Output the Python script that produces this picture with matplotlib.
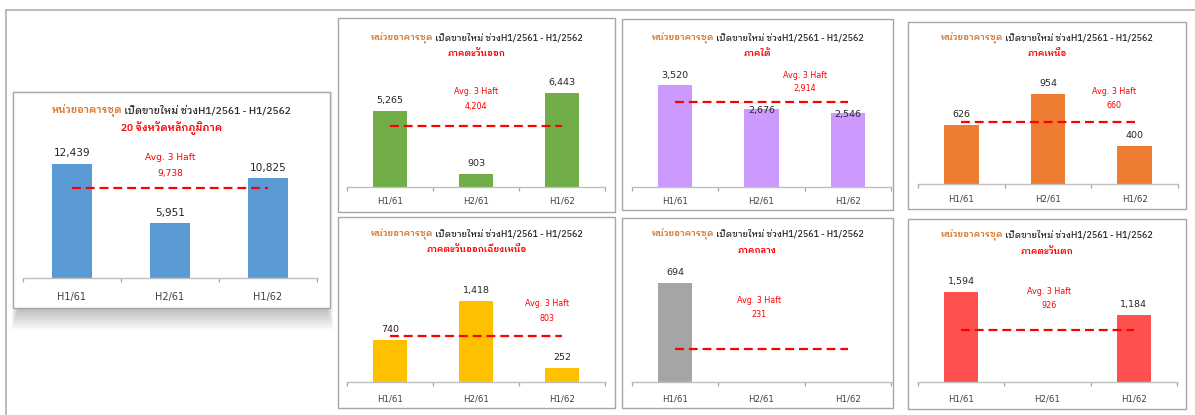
import matplotlib
matplotlib.use("Agg")
import matplotlib.pyplot as plt
from matplotlib.patches import Rectangle
from matplotlib.lines import Line2D

plt.rcParams['font.family'] = ['DejaVu Sans', 'IBM Plex Sans Thai Looped', 'Loma']
thai_first = ['IBM Plex Sans Thai Looped', 'Loma', 'DejaVu Sans']

periods = ["H1/61", "H2/61", "H1/62"]
regions = ["20 จังหวัดหลักภูมิภาค", "ภาคตะวันออก", "ภาคใต้", "ภาคเหนือ",
           "ภาคตะวันออกเฉียงเหนือ", "ภาคกลาง", "ภาคตะวันตก"]
units_main20 = [12439, 5951, 10825]
units_east = [5265, 903, 6443]
units_south = [3520, 2676, 2546]
units_north = [626, 954, 400]
units_northeast = [740, 1418, 252]
units_central = [694, 0, 0]
units_west = [1594, 0, 1184]
avg_3_half = [9738, 4204, 2914, 660, 803, 231, 926]
bar_colors = ["#5B9BD5", "#70AD47", "#CC99FF", "#ED7D31",
              "#FFC000", "#A5A5A5", "#FF5050"]

title_a = "หน่วยอาคารชุด"
title_b = " เปิดขายใหม่ ช่วงH1/2561 - H1/2562"

W, H = 1195, 415
fig = plt.figure(figsize=(W / 100, H / 100), dpi=100)
renderer = fig.canvas.get_renderer()


def fx(x):
    return x / W


def fy(y):
    return 1 - y / H


# page frame
fig.add_artist(Line2D([fx(6), 1], [fy(10.5), fy(10.5)], transform=fig.transFigure,
                      color="#B0B0B0", lw=1.2))
fig.add_artist(Line2D([fx(6.5), fx(6.5)], [fy(10), 0], transform=fig.transFigure,
                      color="#B0B0B0", lw=1.2))

# pixel layout of every panel:
# box, plot area (left, right, top, baseline), y max, title rows, avg text x, avg rows
layout = [
    dict(box=(13, 92, 330, 308), plot=(23, 317, 140, 278), ymax=15000,
         rows=(110, 128), avg_x=1.0, avg_rows=(158, 173), fs=7.6, tfs=7.3,
         tick_off=18, shadow=True),
    dict(box=(338, 18, 615, 212), plot=(347, 605, 65, 187), ymax=8400,
         rows=(38, 54), avg_x=1.0, avg_rows=(92, 106), fs=6.8, tfs=6.5, tick_off=13),
    dict(box=(622, 19, 893, 210), plot=(632, 891, 65, 187), ymax=4200,
         rows=(38, 53), avg_x=1.5, avg_rows=(75, 88), fs=6.8, tfs=6.5, tick_off=13,
         label_off=(9, -1, -1)),
    dict(box=(908, 22, 1186, 209), plot=(918, 1178, 65, 184), ymax=1260,
         rows=(38, 53), avg_x=1.76, avg_rows=(91, 105), fs=6.8, tfs=6.5, tick_off=15),
    dict(box=(338, 217, 615, 408), plot=(347, 605, 265, 382), ymax=2050,
         rows=(234, 249), avg_x=1.83, avg_rows=(304, 318), fs=6.8, tfs=6.5, tick_off=16),
    dict(box=(622, 218, 893, 408), plot=(632, 891, 265, 382), ymax=820,
         rows=(234, 250), avg_x=0.97, avg_rows=(300, 314), fs=6.8, tfs=6.5, tick_off=16),
    dict(box=(908, 219, 1186, 409), plot=(918, 1177, 265, 382), ymax=2070,
         rows=(235, 251), avg_x=1.02, avg_rows=(291, 305), fs=6.8, tfs=6.5, tick_off=16),
]

series = [units_main20, units_east, units_south, units_north,
          units_northeast, units_central, units_west]

for i, (vals, cfg) in enumerate(zip(series, layout)):
    x0, y0, x1, y1 = cfg["box"]
    if cfg.get("shadow"):
        # soft drop shadow, mostly below the box
        for k in range(14):
            g = k * 1.6
            top = y0 + 6 - g * 0.35
            bottom = y1 + 1 + g
            left = x0 + 5 - g * 0.3
            right = x1 - 3 + g * 0.3
            fig.add_artist(Rectangle((fx(left), fy(bottom)), (right - left) / W,
                                     (bottom - top) / H, transform=fig.transFigure,
                                     facecolor="black", edgecolor="none",
                                     alpha=0.02, zorder=-3))
    fig.add_artist(Rectangle((fx(x0), fy(y1)), (x1 - x0) / W, (y1 - y0) / H,
                             transform=fig.transFigure, facecolor="white",
                             edgecolor="#A6A6A6", lw=1.0, zorder=-2))

    px0, px1, ptop, pbase = cfg["plot"]
    ax = fig.add_axes([fx(px0), fy(pbase), (px1 - px0) / W, (pbase - ptop) / H])
    ax.set_facecolor("none")
    fs = cfg["fs"]

    xs = range(len(periods))
    ax.bar(xs, vals, width=0.4, color=bar_colors[i], zorder=2)
    ax.plot([0, 2], [avg_3_half[i]] * 2, color="#FF0000", lw=1.6,
            ls=(0, (4, 2.2)), zorder=3)

    offs = cfg.get("label_off", (10.5, 10.5, 10.5))
    for x, v, o in zip(xs, vals, offs):
        if v:
            ax.annotate(f"{v:,}", (x, v), xytext=(0, o * 0.72), textcoords="offset points",
                        ha="center", va="center", fontsize=fs, color="#262626", zorder=4)

    ax.set_xlim(-0.5, 2.5)
    ax.set_ylim(0, cfg["ymax"])
    ax.set_yticks([])
    for s in ("left", "right", "top"):
        ax.spines[s].set_visible(False)
    ax.spines["bottom"].set_color("#BFBFBF")
    ax.spines["bottom"].set_linewidth(1.0)
    ax.set_xticks(list(xs))
    ax.set_xticklabels(periods, fontsize=fs - 0.6, color="#404040")
    ax.tick_params(axis="x", which="major", length=0,
                   pad=(cfg["tick_off"] - 4) * 0.72)
    ax.set_xticks([-0.5, 0.5, 1.5, 2.5], minor=True)
    ax.tick_params(axis="x", which="minor", length=3, color="#A6A6A6", width=0.9)

    # avg annotation
    cx_px = px0 + (cfg["avg_x"] + 0.5) / 3 * (px1 - px0)
    fig.text(fx(cx_px), fy(cfg["avg_rows"][0]), "Avg. 3 Haft", ha="center", va="center",
             fontsize=fs - 1.0, color="#FF0000")
    fig.text(fx(cx_px), fy(cfg["avg_rows"][1]), f"{avg_3_half[i]:,}", ha="center",
             va="center", fontsize=fs - 1.0, color="#FF0000")

    # two-colour title line, centred on the box
    cx = (x0 + x1) / 2
    tfs = cfg["tfs"]
    ta = fig.text(0, fy(cfg["rows"][0]), title_a, ha="left", va="center",
                  fontsize=tfs, color="#D9772B", fontweight="semibold", family=thai_first)
    tb = fig.text(0, fy(cfg["rows"][0]), title_b, ha="left", va="center",
                  fontsize=tfs, color="#262626", fontweight="medium", family=thai_first)
    wa = ta.get_window_extent(renderer).width
    wb = tb.get_window_extent(renderer).width
    start = cx - (wa + wb) / 2
    ta.set_x(fx(start))
    tb.set_x(fx(start + wa))
    fig.text(fx(cx), fy(cfg["rows"][1]), regions[i], ha="center", va="center",
             fontsize=tfs, color="#FF0000", fontweight="semibold", family=thai_first)

fig.savefig("out.png", dpi=100)
